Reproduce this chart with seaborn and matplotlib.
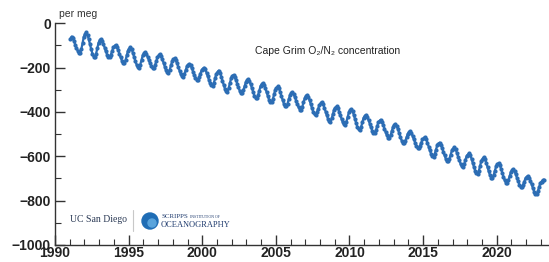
import numpy as np
import pandas as pd
import matplotlib
matplotlib.use("Agg")
import matplotlib.pyplot as plt
from matplotlib.patches import Circle
from matplotlib.ticker import MultipleLocator
import seaborn as sns

# Cape Grim O2/N2, monthly values (per meg), one row per year starting Jan 1991
start_year = 1991
o2n2 = [
    -70, -60, -68, -81, -96, -111, -124, -133, -135, -116, -88, -60,      # 1991
    -48, -41, -52, -72, -95, -117, -137, -151, -153, -137, -112, -87,     # 1992
    -76, -71, -79, -94, -110, -127, -142, -152, -153, -142, -126, -109,   # 1993
    -103, -98, -106, -121, -137, -154, -168, -178, -180, -166, -144, -123,  # 1994
    -114, -108, -117, -134, -152, -171, -187, -198, -200, -186, -166, -145,  # 1995
    -136, -131, -138, -151, -166, -180, -193, -202, -203, -190, -172, -153,  # 1996
    -145, -140, -148, -163, -179, -196, -211, -220, -222, -209, -190, -171,  # 1997
    -163, -158, -166, -181, -197, -214, -229, -238, -240, -229, -212, -194,  # 1998
    -187, -183, -190, -203, -218, -232, -245, -254, -255, -244, -228, -211,  # 1999
    -205, -200, -208, -223, -239, -256, -271, -280, -282, -268, -248, -227,  # 2000
    -219, -213, -223, -240, -259, -278, -295, -306, -308, -293, -271, -248,  # 2001
    -238, -233, -241, -256, -272, -289, -304, -313, -315, -302, -284, -266,  # 2002
    -257, -252, -261, -276, -293, -310, -326, -336, -338, -324, -304, -283,  # 2003
    -275, -270, -279, -294, -312, -329, -345, -355, -357, -343, -321, -300,  # 2004
    -291, -285, -294, -310, -328, -346, -362, -373, -375, -362, -343, -324,  # 2005
    -316, -311, -319, -333, -349, -365, -379, -389, -390, -377, -357, -338,  # 2006
    -328, -323, -332, -348, -366, -384, -400, -411, -413, -402, -385, -368,  # 2007
    -361, -356, -365, -380, -398, -415, -431, -441, -443, -429, -409, -389,  # 2008
    -380, -375, -383, -398, -415, -431, -446, -456, -458, -444, -423, -401,  # 2009
    -393, -387, -396, -413, -432, -451, -468, -479, -481, -467, -447, -426,  # 2010
    -418, -413, -421, -436, -452, -469, -484, -493, -495, -483, -465, -447,  # 2011
    -440, -435, -443, -458, -475, -491, -506, -516, -518, -505, -486, -467,  # 2012
    -459, -454, -463, -478, -496, -513, -529, -539, -541, -530, -515, -498,  # 2013
    -492, -488, -496, -509, -524, -539, -553, -562, -563, -553, -539, -524,  # 2014
    -519, -514, -523, -538, -556, -573, -589, -599, -601, -588, -570, -551,  # 2015
    -543, -538, -547, -562, -579, -596, -611, -621, -623, -610, -592, -573,  # 2016
    -565, -560, -569, -584, -601, -618, -634, -644, -646, -634, -616, -598,  # 2017
    -592, -586, -595, -612, -631, -649, -666, -677, -679, -664, -642, -619,  # 2018
    -610, -604, -613, -630, -649, -668, -685, -696, -698, -685, -665, -645,  # 2019
    -636, -631, -640, -656, -674, -692, -708, -719, -721, -708, -690, -671,  # 2020
    -663, -658, -666, -681, -697, -713, -728, -737, -739, -729, -714, -698,  # 2021
    -693, -688, -696, -711, -727, -744, -759, -768, -770, -757, -740, -721,  # 2022
    -714, -708, -706,                                                         # 2023
]

x_ticks = [1990, 1995, 2000, 2005, 2010, 2015, 2020]
y_ticks = [0, -200, -400, -600, -800, -1000]

# decimal year at mid-month
df = pd.DataFrame({"o2n2": o2n2})
df["year"] = start_year + (np.arange(len(df)) + 0.5) / 12

sns.set_style("ticks")
plt.rcParams['font.family'] = ['Liberation Sans', 'DejaVu Sans']

W, H = 549, 262
fig = plt.figure(figsize=(W / 100, H / 100), dpi=100)
ax = fig.add_axes([55 / W, 1 - 245 / H, 1 - 55 / W, (245 - 23.3) / H])

blue = '#2c6db4'
sns.lineplot(data=df, x="year", y="o2n2", ax=ax, color=blue, linewidth=1.6,
             marker='o', markersize=3, markeredgewidth=0)

ax.set_xlim(1990, 2023.55)
ax.set_ylim(-1000, 0)
ax.set_xticks(x_ticks)
ax.set_yticks(y_ticks)
ax.xaxis.set_minor_locator(MultipleLocator(1))
ax.yaxis.set_minor_locator(MultipleLocator(100))
ax.set_xlabel("")
ax.set_ylabel("")
sns.despine(ax=ax)
for s in ['left', 'bottom']:
    ax.spines[s].set_color('#333333')
    ax.spines[s].set_linewidth(1.0)

ax.tick_params(which='major', direction='in', length=7, width=1.0, color='#333333')
ax.tick_params(which='minor', direction='in', length=4, width=0.8, color='#333333')
ax.tick_params(axis='x', which='major', pad=1)
ax.tick_params(axis='y', which='major', pad=3)
for lab in ax.get_xticklabels() + ax.get_yticklabels():
    lab.set_fontweight('bold')
    lab.set_fontsize(10)
    lab.set_color('#222222')
ax.set_yticklabels([str(v).replace('-', '\u2212') for v in y_ticks])

# texts
fig.text(59 / W, 1 - 14 / H, "per meg", fontsize=7.5, color='#333333', va='center')
fig.text(255 / W, 1 - 51 / H, "Cape Grim O\u2082/N\u2082 concentration", fontsize=7.5,
         color='#222222', va='center')

# logos
fig.text(70 / W, 1 - 220 / H, "UC San Diego", fontsize=7, family='Liberation Serif',
         color='#2b3a55', va='center')
fig.add_artist(plt.Line2D([133 / W, 133 / W], [1 - 210 / H, 1 - 231 / H],
                          color='#c8c8c8', linewidth=0.8))
# circles drawn in inches so they stay round
fig.add_artist(Circle((1.50, (H - 221) / 100), 0.08, transform=fig.dpi_scale_trans,
                      color='#1f6db5'))
fig.add_artist(Circle((1.52, (H - 223) / 100), 0.04, transform=fig.dpi_scale_trans,
                      color='#5aa4dc'))
fig.text(161 / W, 1 - 216 / H, "SCRIPPS", fontsize=5, family='Liberation Serif',
         color='#1f3b6e', va='center')
fig.text(190 / W, 1 - 216.5 / H, "INSTITUTION OF", fontsize=2.8, family='Liberation Serif',
         color='#1f3b6e', va='center')
fig.text(161 / W, 1 - 225 / H, "OCEANOGRAPHY", fontsize=6, family='Liberation Serif',
         color='#1f3b6e', va='center')

fig.savefig("out.png", dpi=100)
